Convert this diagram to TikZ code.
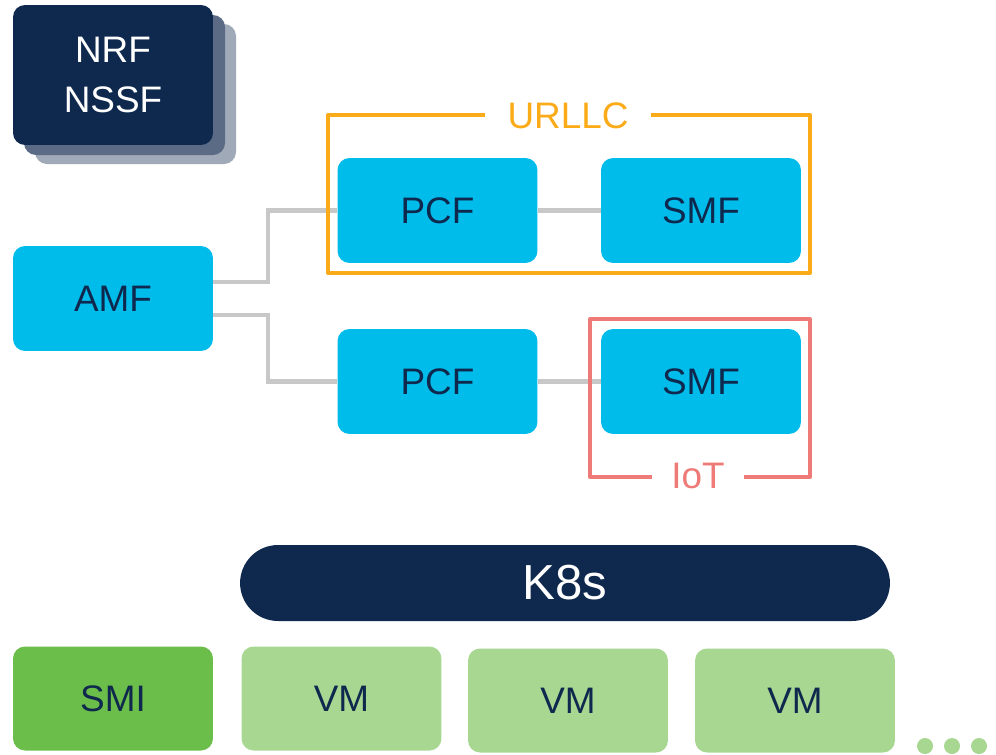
\documentclass[tikz,border=0pt]{standalone}
\usepackage{fontspec}
\setmainfont{Liberation Sans}
\usepackage{tikz}

\begin{document}
\begin{tikzpicture}[x=0.02cm, y=-0.02cm,
  nf/.style={fill=ciscoblue, text=navy, rounded corners=0.24cm, minimum width=4cm, minimum height=2.1cm, inner sep=0pt, font=\fontsize{21}{25}\selectfont},
  host/.style={fill=lightgreen, text=navy, rounded corners=0.24cm, minimum width=4cm, minimum height=2.08cm, inner sep=0pt, font=\fontsize{21}{25}\selectfont},
  link/.style={draw=linkgrey, line width=2.3pt},
  slicebox/.style={line width=2.3pt, line join=round},
  slicelabel/.style={fill=white, inner ysep=1pt, font=\fontsize{21}{25}\selectfont}]
\definecolor{navy}{RGB}{15,40,77}
\definecolor{ciscoblue}{RGB}{0,188,235}
\definecolor{linkgrey}{RGB}{200,200,200}
\definecolor{urllcorange}{RGB}{251,171,24}
\definecolor{iotpink}{RGB}{238,123,120}
\definecolor{smigreen}{RGB}{108,190,75}
\definecolor{lightgreen}{RGB}{168,215,146}
\definecolor{shadowmid}{RGB}{91,107,133}
\definecolor{shadowlight}{RGB}{160,169,184}
\useasboundingbox (0,0) rectangle (996,754);

% NRF / NSSF stack
\fill[shadowlight, rounded corners=0.24cm] (35,24) rectangle (236,164) ; % layer.3
\fill[shadowmid, rounded corners=0.24cm] (24,15) rectangle (225,155) ; % layer.2
\node[fill=navy, text=white, rounded corners=0.24cm, minimum width=4cm, minimum height=2.8cm, align=center, font=\fontsize{21}{29}\selectfont] (nrf) at (113,75) {NRF\\NSSF};

% network functions
\node[nf] (amf) at (113,298.5) {AMF};
\node[nf] (pcfA) at (437.5,210.5) {PCF};
\node[nf] (smfA) at (701,210.5) {SMF};
\node[nf] (pcfB) at (437.5,381.5) {PCF};
\node[nf] (smfB) at (701,381.5) {SMF};

\draw[link] ([yshift=0.33cm]amf.east) -- ++(55,0) |- (pcfA.west) ; % amf-pcfA
\draw[link] ([yshift=-0.33cm]amf.east) -- ++(55,0) |- (pcfB.west) ; % amf-pcfB
\draw[link] (pcfA.east) -- (smfA.west) ; % pcfA-smfA
\draw[link] (pcfB.east) -- (smfB.west) ; % pcfB-smfB

% slices
\draw[slicebox, draw=urllcorange] (328,115) rectangle (810,273) ; % URLLC
\node[slicelabel, text=urllcorange, inner xsep=0.45cm] (urllc) at (568,116) {URLLC};
\draw[slicebox, draw=iotpink] (590,319) rectangle (810,477) ; % IoT
\node[slicelabel, text=iotpink, inner xsep=0.38cm] (iot) at (698,476) {IoT};

% platform
\node[fill=navy, text=white, rounded corners=0.76cm, minimum width=13cm, minimum height=1.52cm, inner sep=0pt, font=\fontsize{28}{32}\selectfont] (k8s) at (565,583) {K8s};
\node[host, fill=smigreen] (smi) at (113,698.5) {SMI};
\node[host] (vmA) at (341.5,698.5) {VM};
\node[host] (vmB) at (568,700.5) {VM};
\node[host] (vmC) at (795,700.5) {VM};

\fill[lightgreen] (925,746) circle (0.16cm) ; % dot.1
\fill[lightgreen] (952,746) circle (0.16cm) ; % dot.2
\fill[lightgreen] (979,746) circle (0.16cm) ; % dot.3
\end{tikzpicture}
\end{document}
